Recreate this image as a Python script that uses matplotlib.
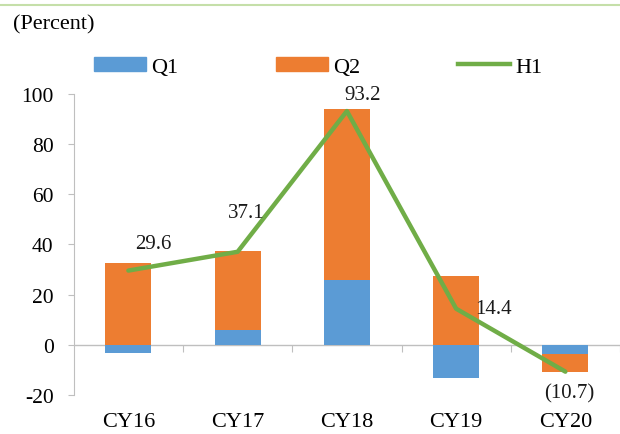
import numpy as np
import matplotlib.pyplot as plt
from matplotlib.lines import Line2D

plt.rcParams['font.family'] = ['Liberation Serif', 'DejaVu Serif']
plt.rcParams['axes.unicode_minus'] = False

years = ["CY16", "CY17", "CY18", "CY19", "CY20"]
q1 = [-3.2, 6.0, 25.9, -13.3, -3.6]
q2 = [32.8, 31.5, 68.0, 27.6, -7.3]
h1 = [29.6, 37.1, 93.2, 14.4, -10.7]
h1_labels = ["29.6", "37.1", "93.2", "14.4", "(10.7)"]

blue = "#5B9BD5"
orange = "#ED7D31"
green = "#70AD47"
grid_gray = "#BFBFBF"

fig = plt.figure(figsize=(6.2, 4.35), dpi=100)
ax = fig.add_axes([0.119, 0.0897, 0.881, 0.6919])

x = np.arange(len(years))
q1 = np.array(q1)
q2 = np.array(q2)
# Q2 stacks on Q1 only when both have the same sign
bottom2 = np.where(np.sign(q1) == np.sign(q2), q1, 0)

ax.bar(x, q1, width=0.42, color=blue, label="Q1", zorder=2)
ax.bar(x, q2, width=0.42, bottom=bottom2, color=orange, label="Q2", zorder=2)
ax.plot(x, h1, color=green, lw=3.2, solid_capstyle='round', zorder=3, label="H1")

offsets = [(18, 19.5), (6.5, 28), (11, 12), (27, 0), (3, -15)]
for xi, yi, lab, off in zip(x, h1, h1_labels, offsets):
    ax.annotate(lab, (xi, yi), xytext=off, textcoords="offset points",
                ha="center", va="center", fontsize=15, color="#1a1a1a")

ax.set_xlim(-0.5, 4.5)
ax.set_ylim(-20, 100)
ax.set_yticks(range(-20, 101, 20))
ax.set_xticks(x)
ax.set_xticklabels(years)
ax.tick_params(axis='x', length=0, pad=12, labelsize=16)
ax.tick_params(axis='y', length=4.5, color=grid_gray, labelsize=15.5, pad=10)

for s in ["top", "right", "bottom"]:
    ax.spines[s].set_visible(False)
ax.spines["left"].set_color(grid_gray)
ax.axhline(0, color=grid_gray, lw=1, zorder=1)

# category divider ticks hanging off the zero line
sec = ax.secondary_xaxis(20 / 120)
sec.set_xticks(np.arange(0.5, 4.6, 1.0))
sec.tick_params(length=5, color=grid_gray, labelbottom=False)
sec.spines["bottom"].set_visible(False)

handles = [plt.Rectangle((0, 0), 1, 1, color=blue),
           plt.Rectangle((0, 0), 1, 1, color=orange),
           Line2D([0], [0], color=green, lw=3.2)]
fig.legend(handles, ["Q1", "Q2", "H1"], loc="center left",
           bbox_to_anchor=(0.152, 0.844), ncol=3, frameon=False,
           fontsize=16, handlelength=2.35, handleheight=0.6,
           columnspacing=4.4, handletextpad=0.22,
           borderpad=0, borderaxespad=0)

fig.text(0.021, 0.942, "(Percent)", fontsize=16, va="center", ha="left")
fig.add_artist(Line2D([0, 1], [0.986, 0.986], color="#C5DFA9", lw=1.5,
                      transform=fig.transFigure))

fig.savefig("out.png", dpi=100)
